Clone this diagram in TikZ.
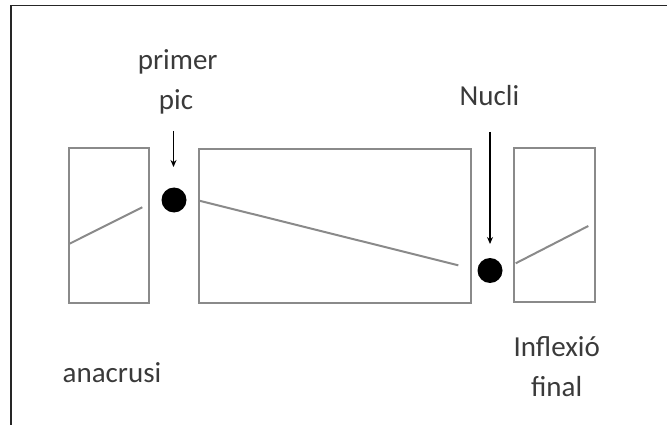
\documentclass[tikz,border=0pt]{standalone}
\usepackage{fontspec}
\setmainfont{Carlito}
\usetikzlibrary{arrows.meta}
\definecolor{boxgray}{HTML}{8A8A8A}
\definecolor{txtgray}{HTML}{3A3A3A}
\begin{document}
\begin{tikzpicture}[x=1pt,y=-1pt,
  frameline/.style={line width=1.5pt,draw=black!85},
  seg/.style={draw=boxgray,line width=2pt,rectangle,inner sep=0pt},
  contour/.style={draw=boxgray,line width=2pt},
  peak/.style={circle,fill=black,inner sep=0pt,minimum size=25pt},
  pointer/.style={line width=1.3pt,-{Stealth[length=7pt,width=6pt]}},
  lbl/.style={text=txtgray,font=\fontsize{29}{35}\selectfont,anchor=base,inner sep=0pt}]
\useasboundingbox (0,0) rectangle (667,425);
% frame (top and left only)
\draw[frameline] (11,425) -- (11,5.5) -- (667,5.5);
% boxes
\node[seg,minimum width=80.3pt,minimum height=155pt] (b1) at (109.2,225.8) {};
\node[seg,minimum width=271.7pt,minimum height=153.4pt] (b2) at (335.2,226) {};
\node[seg,minimum width=81pt,minimum height=153.4pt] (b3) at (554.5,225) {};
% contours
\draw[contour] (69,244) -- (142.3,207.3);
\draw[contour] (199.3,200.7) -- (458.3,265.3);
\draw[contour] (515.7,263.3) -- (588.3,226);
% dots
\node[peak] (p1) at (174,200) {};
\node[peak] (p2) at (490,270.5) {};
% arrows
\coordinate (a1s) at (173.5,131);
\coordinate (a1e) at (173.5,167);
\coordinate (a2s) at (490,132);
\coordinate (a2e) at (490,244);
\draw[pointer] (a1s) -- (a1e);
\draw[pointer] (a2s) -- (a2e);
% labels
\node[lbl] (t1) at (177.7,70) {primer};
\node[lbl] (t2) at (176,110) {pic};
\node[lbl] (t3) at (489.5,106) {Nucli};
\node[lbl] (t4) at (112,382) {anacrusi};
\node[lbl] (t5) at (556.7,356.7) {Inflexió};
\node[lbl] (t6) at (556.7,396.7) {final};
\end{tikzpicture}
\end{document}
